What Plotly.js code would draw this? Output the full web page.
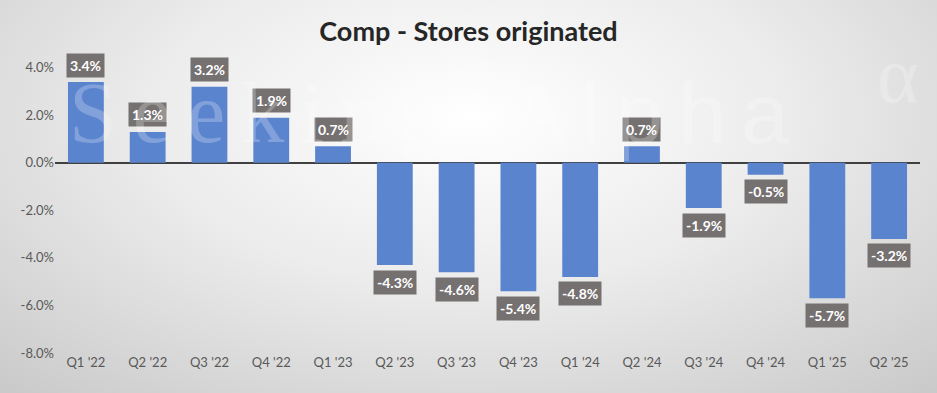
<!DOCTYPE html>
<html>
<head>
<meta charset="utf-8">
<script src="https://cdn.plot.ly/plotly-3.0.1.min.js"></script>
<style>
  html, body { margin:0; padding:0; }
  #wrap { width:937px; height:393px; position:relative;
    background: radial-gradient(ellipse 75% 95% at 50% 30%, #ffffff 0%, #ececec 45%, #c9c9c9 100%); }
  #chart { width:937px; height:393px; position:absolute; left:0; top:0; }
</style>
</head>
<body>
<div id="wrap"><div id="chart"></div></div>
<script>
const categories = ["Q1 '22","Q2 '22","Q3 '22","Q4 '22","Q1 '23","Q2 '23","Q3 '23","Q4 '23","Q1 '24","Q2 '24","Q3 '24","Q4 '24","Q1 '25","Q2 '25"];
const compValues = [3.4, 1.3, 3.2, 1.9, 0.7, -4.3, -4.6, -5.4, -4.8, 0.7, -1.9, -0.5, -5.7, -3.2];
const yTickValues = [-8, -6, -4, -2, 0, 2, 4];
const titleText = "Comp - Stores originated";

const font = "Lato, 'Open Sans', sans-serif";

const trace = {
  type: 'bar',
  x: categories,
  y: compValues,
  marker: { color: '#5B84CF' },
  hoverinfo: 'x+y'
};

const annotations = categories.map((c, i) => ({
  x: c, y: compValues[i], xref: 'x', yref: 'y',
  text: compValues[i].toFixed(1) + '%',
  showarrow: false,
  yshift: compValues[i] >= 0 ? 17 : -17,
  bgcolor: '#767171',
  borderpad: 3,
  font: { family: font, size: 14, color: '#ffffff', weight: 'bold' }
}));

const wmColor = 'rgba(255,255,255,0.24)';
annotations.push({
  xref: 'paper', yref: 'paper', x: (67 - 55) / 865, y: 0.777, xanchor: 'left', yanchor: 'middle',
  text: '<span style="letter-spacing:16px">Seeking</span>',
  showarrow: false,
  font: { family: "'Liberation Serif', 'DejaVu Serif', serif", size: 86, color: wmColor }
});
annotations.push({
  xref: 'paper', yref: 'paper', x: (507 - 55) / 865, y: 0.777, xanchor: 'left', yanchor: 'middle',
  text: '<span style="letter-spacing:15px">Alpha</span>',
  showarrow: false,
  font: { family: "'Liberation Sans', Arial, sans-serif", size: 86, color: wmColor }
});
annotations.push({
  xref: 'paper', yref: 'paper', x: 0.975, y: 0.9, xanchor: 'center', yanchor: 'middle',
  text: 'α',
  showarrow: false,
  font: { family: "'Liberation Serif', serif", size: 80, color: wmColor }
});

const layout = {
  width: 937, height: 393,
  paper_bgcolor: 'rgba(0,0,0,0)',
  plot_bgcolor: 'rgba(0,0,0,0)',
  margin: { l: 55, r: 17, t: 44, b: 40 },
  title: { text: '<b>' + titleText + '</b>', x: 0.5, xanchor: 'center', y: 0.92, yanchor: 'middle',
           font: { family: font, size: 27, color: '#262626' } },
  bargap: 0.42,
  showlegend: false,
  xaxis: {
    type: 'category',
    showgrid: false, showline: false, zeroline: false,
    ticks: '', tickfont: { family: font, size: 13, color: '#595959' },
    anchor: 'y', side: 'bottom'
  },
  yaxis: {
    range: [-8, 5],
    tickvals: yTickValues,
    ticktext: yTickValues.map(v => v.toFixed(1) + '%'),
    showgrid: false, showline: false,
    zeroline: true, zerolinecolor: '#404040', zerolinewidth: 1.5,
    tickfont: { family: font, size: 13, color: '#595959' },
    ticks: '', ticklen: 0
  },
  annotations: annotations
};

Plotly.newPlot('chart', [trace], layout, { displayModeBar: false, staticPlot: true });
</script>
</body>
</html>
